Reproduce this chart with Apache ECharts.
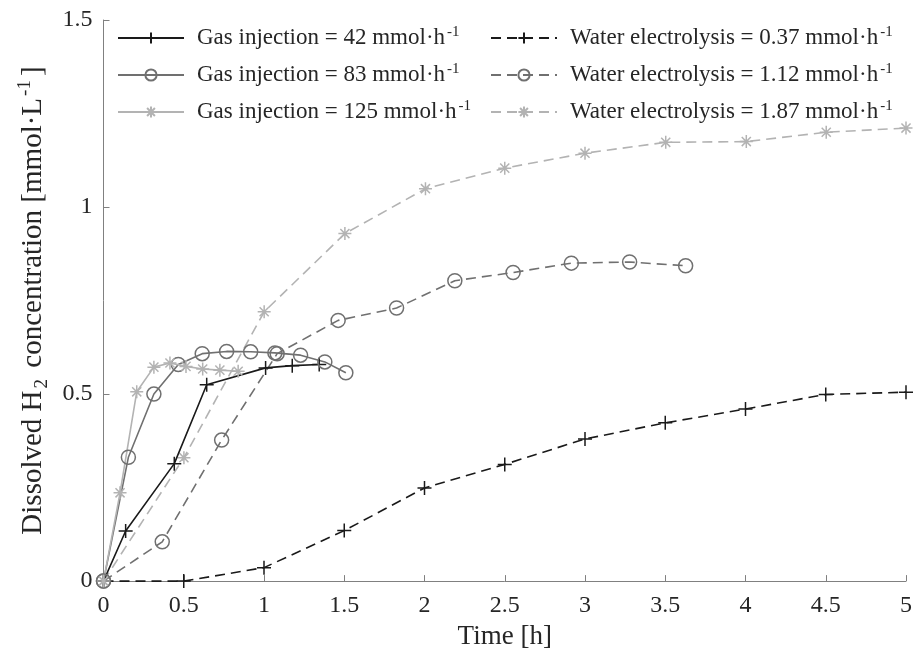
<!DOCTYPE html>
<html>
<head>
<meta charset="utf-8">
<script src="https://cdn.jsdelivr.net/npm/echarts@6/dist/echarts.min.js"></script>
<style>
  html, body { margin: 0; padding: 0; background: #fff; }
  #chart { width: 915px; height: 655px; }
</style>
</head>
<body>
<div id="chart"></div>
<script>
// data: [time h, H2 mmol/L]
const gas42 = [[0, 0], [0.138, 0.134], [0.441, 0.314], [0.643, 0.525], [1.01, 0.57], [1.176, 0.576], [1.344, 0.579]]
const gas83 = [[0, 0], [0.155, 0.331], [0.314, 0.5], [0.466, 0.579], [0.615, 0.608], [0.767, 0.614], [0.917, 0.613],
  [1.068, 0.61], [1.228, 0.604], [1.379, 0.586], [1.51, 0.557]]
const gas125 = [[0, 0], [0.103, 0.236], [0.207, 0.506], [0.314, 0.572], [0.414, 0.583], [0.514, 0.574],
  [0.618, 0.567], [0.725, 0.564], [0.839, 0.561]]
const elec037 = [[0, 0], [0.5, 0], [1, 0.036], [1.5, 0.135], [2, 0.249], [2.5, 0.312], [3, 0.38], [3.5, 0.423],
  [4, 0.46], [4.5, 0.499], [5, 0.505]]
const elec112 = [[0, 0], [0.366, 0.105], [0.736, 0.377], [1.082, 0.608], [1.462, 0.697], [1.826, 0.73],
  [2.189, 0.803], [2.552, 0.825], [2.915, 0.85], [3.278, 0.853], [3.627, 0.843]]
const elec187 = [[0, 0], [0.501, 0.33], [1.001, 0.72], [1.504, 0.929], [2.006, 1.049], [2.5, 1.104], [3.0, 1.144],
  [3.503, 1.173], [4.005, 1.175], [4.503, 1.2], [5.0, 1.211]]

const seriesNames = [
  'Gas injection = 42 mmol·h', 'Gas injection = 83 mmol·h', 'Gas injection = 125 mmol·h',
  'Water electrolysis = 0.37 mmol·h', 'Water electrolysis = 1.12 mmol·h', 'Water electrolysis = 1.87 mmol·h'
]

const BLACK = '#1a1a1a'
const DARK = '#707070'
const LIGHT = '#b3b3b3'
const TEXT = '#262626'
const FONT = 'Liberation Serif'

const plusPath = 'path://M0,-10 L0,10 M-10,0 L10,0'
const starPath = 'path://M0,-10 L0,10 M-10,0 L10,0 M-7,-7 L7,7 M-7,7 L7,-7'
const DASH = [10, 6]

function makeSeries(name, data, color, symbol, dashed, size) {
  return {
    name,
    type: 'line',
    data,
    symbol,
    symbolSize: size,
    showAllSymbol: true,
    lineStyle: { color, width: 1.6, type: dashed ? DASH : 'solid' },
    itemStyle: { color: 'transparent', borderColor: color, borderWidth: 1.5 },
    emphasis: { disabled: true },
    z: dashed ? 2 : 3
  }
}

const chart = echarts.init(document.getElementById('chart'))

const legendText = {
  fontFamily: FONT,
  fontSize: 23,
  color: TEXT,
  rich: {
    t: { fontFamily: FONT, fontSize: 23, color: TEXT, lineHeight: 26, padding: [0, 0, 0, 8] },
    sup: { fontFamily: FONT, fontSize: 15, color: TEXT, verticalAlign: 'top', lineHeight: 14, padding: [0, 0, 0, 2] }
  }
}
const legendFmt = (n) => `{t|${n}}{sup|-1}`

function legendCol(names, left) {
  return {
    data: names,
    orient: 'vertical',
    left,
    top: 25,
    padding: 0,
    itemWidth: 66,
    itemHeight: 14,
    itemGap: 12.5,
    formatter: legendFmt,
    textStyle: legendText,
    selectedMode: false
  }
}

chart.setOption({
  backgroundColor: '#fff',
  animation: false,
  textStyle: { fontFamily: FONT },
  grid: { left: 103.5, right: 7, top: 20, bottom: 73 },
  legend: [legendCol(seriesNames.slice(0, 3), 117), legendCol(seriesNames.slice(3), 490)],
  xAxis: {
    type: 'value',
    min: 0,
    max: 5,
    interval: 0.5,
    name: 'Time [h]',
    nameLocation: 'middle',
    nameGap: 36,
    nameTextStyle: { fontFamily: FONT, fontSize: 27, color: TEXT },
    axisLine: { lineStyle: { color: '#808080', width: 1 } },
    axisTick: { inside: true, length: 6, lineStyle: { color: '#808080' } },
    axisLabel: { fontFamily: FONT, fontSize: 24, color: TEXT, margin: 13 },
    splitLine: { show: false }
  },
  yAxis: {
    type: 'value',
    min: 0,
    max: 1.5,
    interval: 0.5,
    name: 'Dissolved H{sub|2} concentration [mmol·L{sup|-1}]',
    nameLocation: 'middle',
    nameRotate: 90,
    nameGap: 38,
    nameTextStyle: {
      fontFamily: FONT,
      fontSize: 29,
      color: TEXT,
      lineHeight: 36,
      rich: {
        sub: { fontFamily: FONT, fontSize: 19, color: TEXT, verticalAlign: 'bottom', lineHeight: 18, padding: [0, 4, 0, 2] },
        sup: { fontFamily: FONT, fontSize: 19, color: TEXT, verticalAlign: 'top', lineHeight: 18, padding: [0, 4, 0, 2] }
      }
    },
    axisLine: { show: true, lineStyle: { color: '#808080', width: 1 } },
    axisTick: { show: true, inside: true, length: 6, lineStyle: { color: '#808080' } },
    axisLabel: { fontFamily: FONT, fontSize: 24, color: TEXT, margin: 11 },
    splitLine: { show: false }
  },
  series: [
    makeSeries(seriesNames[0], gas42, BLACK, plusPath, false, 14),
    makeSeries(seriesNames[1], gas83, DARK, 'circle', false, 14),
    makeSeries(seriesNames[2], gas125, LIGHT, starPath, false, 13),
    makeSeries(seriesNames[3], elec037, BLACK, plusPath, true, 14),
    makeSeries(seriesNames[4], elec112, DARK, 'circle', true, 14),
    makeSeries(seriesNames[5], elec187, LIGHT, starPath, true, 13)
  ]
})
</script>
</body>
</html>
